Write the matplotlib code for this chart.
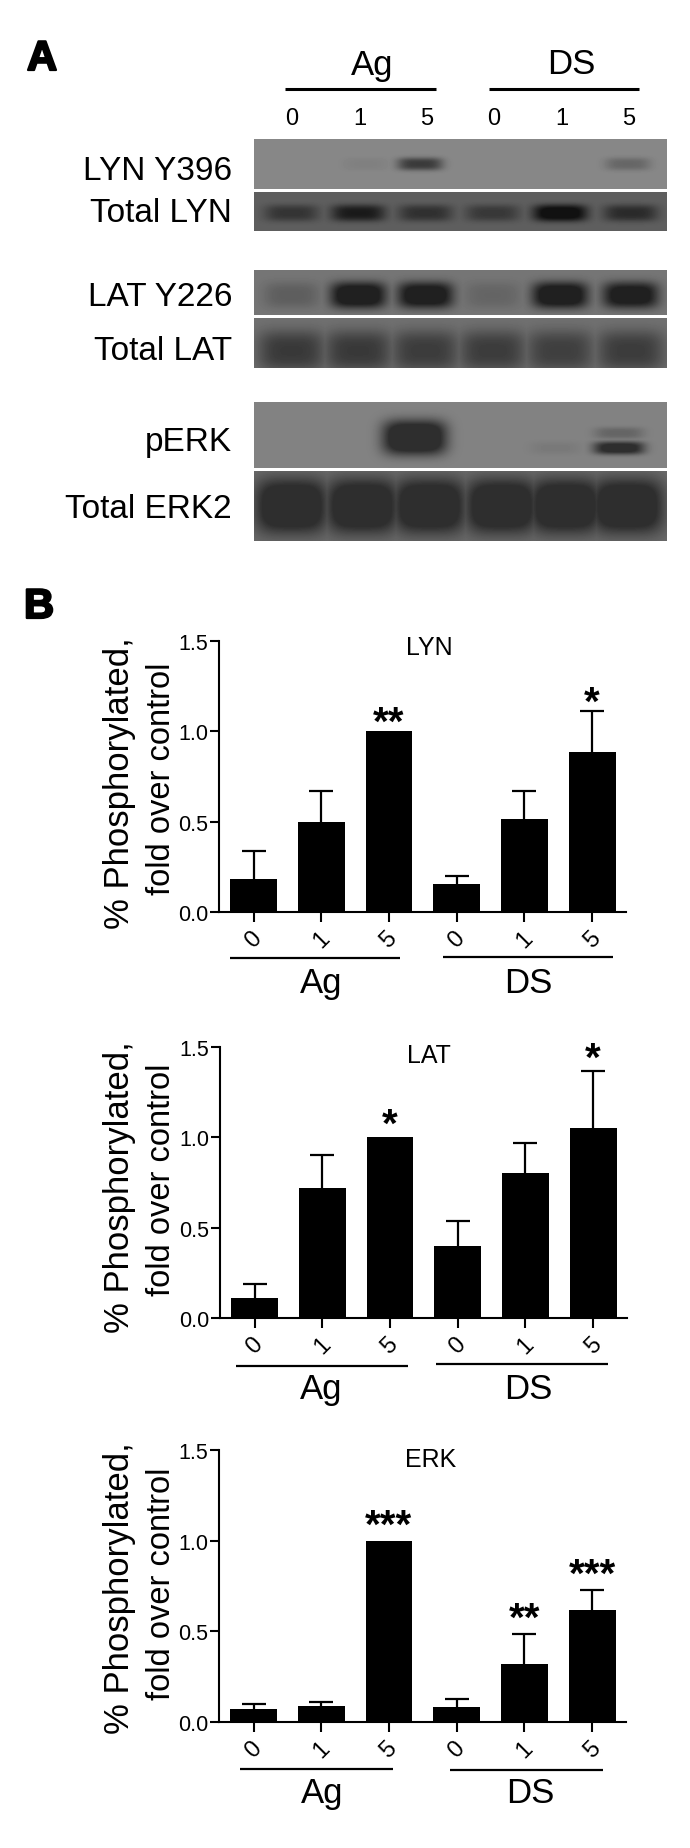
import matplotlib
matplotlib.use("Agg")
import matplotlib.pyplot as plt
from matplotlib.lines import Line2D
import matplotlib.patheffects as pe
import numpy as np

W, H = 690, 1849
SANS = ["Liberation Sans", "DejaVu Sans"]

# bar data
times = ["0", "1", "5", "0", "1", "5"]

lyn_vals = [0.18, 0.498, 1.0, 0.157, 0.513, 0.887]
lyn_tops = [0.335, 0.67, 1.0, 0.197, 0.672, 1.114]
lyn_stars = ["", "", "**", "", "", "*"]

lat_vals = [0.109, 0.722, 1.0, 0.40, 0.805, 1.05]
lat_tops = [0.186, 0.90, 1.0, 0.538, 0.967, 1.367]
lat_stars = ["", "", "*", "", "", "*"]

erk_vals = [0.07, 0.088, 1.0, 0.083, 0.32, 0.615]
erk_tops = [0.10, 0.112, 1.0, 0.125, 0.483, 0.728]
erk_stars = ["", "", "***", "", "**", "***"]

yticks = [0.0, 0.5, 1.0, 1.5]

# blot data, band darkness per lane (above 1 gives a flat dark core)
lane_x = [0.09, 0.252, 0.415, 0.578, 0.742, 0.913]
lyn_lanes = [0.09, 0.27, 0.402, 0.58, 0.745, 0.906]
perk_lanes = [0.09, 0.25, 0.389, 0.58, 0.73, 0.885]
total_erk_lanes = [0.09, 0.262, 0.425, 0.60, 0.755, 0.905]

lyn_p_bands = [0.0, 0.07, 0.75, 0.0, 0.0, 0.32]
lyn_t_bands = [0.55, 0.9, 0.60, 0.50, 1.25, 0.68]
lat_p_bands = [0.28, 1.35, 1.3, 0.2, 1.35, 1.25]
lat_t_bands = [0.9, 0.9, 0.85, 0.85, 0.8, 0.85]
erk_p_main = [0.0, 0.0, 1.5, 0.0, 0.0, 0.0]
erk_p_upper = [0.0, 0.0, 0.0, 0.0, 0.0, 0.35]
erk_p_lower = [0.0, 0.0, 0.0, 0.0, 0.10, 1.2]
erk_t_bands = [1.5, 1.5, 1.5, 1.5, 1.5, 1.5]

fig = plt.figure(figsize=(W / 100, H / 100), dpi=100, facecolor="white")


def px_text(x, y, s, size, ha="center", va="center", rotation=0, **kw):
    return fig.text(x / W, 1 - y / H, s, fontsize=size, ha=ha, va=va, rotation=rotation,
                    family=SANS, color="black", **kw)


def px_line(x0, x1, y, lw=2.0):
    fig.add_artist(Line2D([x0 / W, x1 / W], [1 - y / H, 1 - y / H], color="black", lw=lw,
                          solid_capstyle="butt"))


def draw_blot(top, bottom, bg, dark, band_sets):
    # image of one membrane, bands are soft blobs on a grey background
    ax = fig.add_axes([253.5 / W, 1 - bottom / H, 413 / W, (bottom - top) / H])
    rows = int(bottom - top)
    xx, yy = np.meshgrid(np.linspace(0, 1, 413), np.linspace(0, 1, rows))
    amount = np.zeros_like(xx)
    for lanes, strengths, by, bh, bw in band_sets:
        for cx, s in zip(lanes, strengths):
            blob = np.exp(-(np.abs(xx - cx) / bw) ** 4 - (np.abs(yy - by) / bh) ** 3)
            amount = np.maximum(amount, s * blob)
    amount = np.minimum(amount, 1)
    ax.imshow(bg - (bg - dark) * amount, cmap="gray", vmin=0, vmax=1, aspect="auto",
              interpolation="bilinear")
    ax.axis("off")


# Panel A
draw_blot(140, 190, 0.53, 0.13, [(lyn_lanes, lyn_p_bands, 0.50, 0.13, 0.055)])
draw_blot(193, 232, 0.37, 0.07, [(lane_x, lyn_t_bands, 0.54, 0.22, 0.066)])
draw_blot(271, 316, 0.46, 0.13, [(lane_x, lat_p_bands, 0.56, 0.30, 0.068)])
draw_blot(319, 369, 0.44, 0.20, [(lane_x, lat_t_bands, 0.66, 0.42, 0.082)])
draw_blot(403, 469, 0.51, 0.18, [(perk_lanes, erk_p_main, 0.54, 0.27, 0.078),
                                 (perk_lanes, erk_p_upper, 0.47, 0.09, 0.06),
                                 (perk_lanes, erk_p_lower, 0.70, 0.10, 0.062)])
draw_blot(472, 542, 0.42, 0.18, [(total_erk_lanes, erk_t_bands, 0.50, 0.40, 0.088)])

px_text(372, 65, "Ag", 25)
px_text(571, 65, "DS", 25)
px_line(285, 436, 89.5, lw=2.2)
px_line(489, 639, 89.5, lw=2.2)
for tx, t in zip([291.5, 360, 427, 494, 562, 629], times):
    px_text(tx, 119, t, 17)

px_text(232, 172, "LYN Y396", 24, ha="right")
px_text(232, 214, "Total LYN", 24, ha="right")
px_text(232, 298, "LAT Y226", 24, ha="right")
px_text(232, 352, "Total LAT", 24, ha="right")
px_text(232, 442, "pERK", 24, ha="right")
px_text(232, 510, "Total ERK2", 24, ha="right")

letter_fx = [pe.withStroke(linewidth=1.6, foreground="black")]
px_text(42, 60, "A", 30, fontweight="bold", path_effects=letter_fx)
px_text(39, 608, "B", 30, fontweight="bold", path_effects=letter_fx)


def bar_panel(top, zero, left, title, vals, tops, stars, star_lift, ag_line, ds_line, line_y,
              title_pos, label_y, group_x):
    ax = fig.add_axes([left / W, 1 - zero / H, 407 / W, (zero - top) / H])
    x = np.arange(len(vals))
    ax.bar(x, vals, width=0.69, color="black")
    for xi, v, t in zip(x, vals, tops):
        if t > v:
            ax.vlines(xi, v, t, color="black", lw=1.6)
            ax.plot([xi], [t], marker="_", ms=17, mew=1.6, color="black")
    for xi, v, t, s in zip(x, vals, tops, stars):
        if s:
            ax.annotate(s, (xi, max(v, t)), xytext=(0, star_lift), textcoords="offset points",
                        ha="center", va="baseline", fontsize=29, fontweight="bold",
                        family=SANS)
    ax.set_xlim(-0.51, 5.50)
    ax.set_ylim(0, 1.5)
    ax.set_yticks(yticks)
    ax.set_yticklabels([f"{t:.1f}" for t in yticks], fontsize=15.5, family=SANS)
    ax.set_xticks(x)
    ax.set_xticklabels(times, fontsize=17, family=SANS, rotation=45, ha="center")
    ax.tick_params(axis="y", length=6.5, width=1.5, pad=1.5)
    ax.tick_params(axis="x", length=7.5, width=1.5, pad=3)
    ax.patch.set_alpha(0)
    for side in ["top", "right"]:
        ax.spines[side].set_visible(False)
    for side in ["left", "bottom"]:
        ax.spines[side].set_linewidth(1.5)

    px_text(title_pos[0], title_pos[1], title, 18)
    px_text(120, label_y[0], "% Phosphorylated,", 25, rotation=90)
    px_text(161, label_y[1], "fold over control", 23.5, rotation=90)

    px_line(ag_line[0], ag_line[1], line_y[0], lw=1.6)
    px_line(ds_line[0], ds_line[1], line_y[1], lw=1.6)
    px_text(group_x[0], zero + 71, "Ag", 25)
    px_text(group_x[1], zero + 71, "DS", 25)


bar_panel(642, 913, 219, "LYN", lyn_vals, lyn_tops, lyn_stars, -2,
          (230, 400), (443, 613), (959, 958), (429, 648), (783, 779), (321, 528))
bar_panel(1048, 1319, 220, "LAT", lat_vals, lat_tops, lat_stars, 1,
          (236, 408), (436, 608), (1367, 1365), (429, 1056), (1187, 1180), (321, 528))
bar_panel(1451, 1723, 219, "ERK", erk_vals, erk_tops, erk_stars, 3,
          (240, 393), (450, 603), (1770, 1771), (431, 1460), (1588, 1584), (322, 530))

fig.savefig("out.png", dpi=100, facecolor="white")
